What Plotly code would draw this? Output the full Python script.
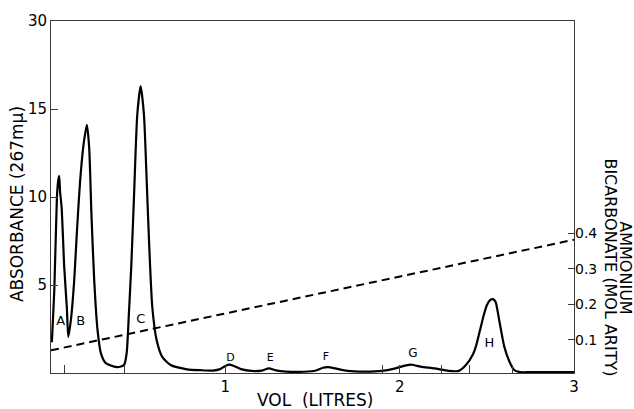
import plotly.graph_objects as go

# Elution profile (absorbance at 267 mμ)
vol = [0.005, 0.019, 0.034, 0.041, 0.047, 0.052, 0.061, 0.076, 0.091, 0.099,
       0.114, 0.133, 0.149, 0.167, 0.187, 0.206, 0.219, 0.232, 0.248, 0.267,
       0.286, 0.314, 0.381, 0.419, 0.434, 0.447, 0.461, 0.476, 0.495, 0.514,
       0.533, 0.549, 0.564, 0.581, 0.606, 0.638, 0.686, 0.78, 0.857, 0.93,
       0.97, 1.0, 1.02, 1.05, 1.09, 1.15, 1.21, 1.25, 1.29, 1.35, 1.45,
       1.52, 1.56, 1.59, 1.63, 1.7, 1.8, 1.9, 1.97, 2.03, 2.07, 2.12,
       2.2, 2.28, 2.34, 2.38, 2.42, 2.44, 2.46, 2.48, 2.50, 2.52, 2.535,
       2.55, 2.571, 2.6, 2.63, 2.657, 2.69, 2.75, 2.85, 2.95, 3.0]
absorb = [1.75, 4.7, 10.0, 10.9, 11.2, 10.3, 9.4, 6.0, 3.7, 2.05,
          3.0, 5.25, 8.1, 10.9, 13.0, 14.1, 12.8, 9.0, 5.25, 2.43,
          1.13, 0.56, 0.33, 0.45, 1.13, 3.4, 6.2, 10.0, 14.7, 16.3,
          14.7, 10.9, 7.1, 3.75, 1.86, 0.92, 0.45, 0.21, 0.16, 0.14,
          0.22, 0.4, 0.48, 0.4, 0.22, 0.12, 0.14, 0.26, 0.15, 0.08, 0.07,
          0.14, 0.3, 0.33, 0.26, 0.12, 0.08, 0.12, 0.25, 0.42, 0.47, 0.36,
          0.26, 0.12, 0.12, 0.45, 1.05, 1.6, 2.4, 3.2, 3.85, 4.15, 4.2,
          4.05, 3.0, 1.5, 0.64, 0.17, 0.05, 0.05, 0.05, 0.05, 0.05]

# Ammonium bicarbonate gradient (molarity)
grad_vol = [0.0, 3.0]
grad_mol = [0.07, 0.382]

# Peak labels
peak_names = ["A", "B", "C", "D", "E", "F", "G", "H"]
peak_x = [0.056, 0.171, 0.515, 1.03, 1.257, 1.577, 2.076, 2.514]
peak_y = [2.94, 2.94, 3.05, 0.83, 0.83, 0.92, 1.07, 1.68]
peak_size = [13, 13, 13, 11, 11, 11, 12, 13]

# Axis ticks
x_ticks = [1, 2, 3]
x_ticktext = ["1", "2", "3"]
x_marks = [0.08, 0.42, 1.9, 2.24, 2.4, 2.65]
y_ticks = [5, 10, 15, 20]
y_ticktext = ["5", "10", "15", "30"]
y2_ticks = [0.1, 0.2, 0.3, 0.4]
y2_ticktext = ["0.1", "0.2", "0.3", "0.4"]

FONT = "DejaVu Sans"
AX = "#3a3a3a"

fig = go.Figure()
fig.add_trace(go.Scatter(x=vol, y=absorb, mode="lines",
                         line=dict(color="black", width=2.2, shape="spline", smoothing=0.6),
                         showlegend=False, hoverinfo="skip"))
fig.add_trace(go.Scatter(x=grad_vol, y=grad_mol, mode="lines", yaxis="y2",
                         line=dict(color="black", width=2, dash="8px,5px"),
                         showlegend=False, hoverinfo="skip"))
fig.add_trace(go.Scatter(x=peak_x, y=peak_y, mode="text", text=peak_names,
                         textfont=dict(family=FONT, size=peak_size, color="black"),
                         showlegend=False, hoverinfo="skip"))

fig.update_layout(
    width=634, height=409,
    margin=dict(l=51, r=60, t=19, b=36),
    paper_bgcolor="white", plot_bgcolor="white",
    font=dict(family=FONT, color="black"),
    xaxis=dict(range=[0, 3], showgrid=False, zeroline=False,
               showline=True, linecolor=AX, linewidth=1, mirror=True,
               tickmode="array", tickvals=x_ticks, ticktext=x_ticktext,
               ticks="inside", ticklen=8, tickcolor=AX, tickwidth=1,
               tickfont=dict(size=15),
               minor=dict(tickmode="array", tickvals=x_marks, ticks="inside",
                          ticklen=8, tickcolor=AX, tickwidth=1, showgrid=False)),
    yaxis=dict(range=[0, 20], showgrid=False, zeroline=False,
               showline=True, linecolor=AX, linewidth=1, mirror=True,
               tickmode="array", tickvals=y_ticks, ticktext=y_ticktext,
               ticks="inside", ticklen=7, tickcolor=AX, tickwidth=1,
               tickfont=dict(size=15)),
    yaxis2=dict(range=[0.006, 0.999], overlaying="y", side="right",
                showgrid=False, zeroline=False, showline=False,
                tickmode="array", tickvals=y2_ticks, ticktext=y2_ticktext,
                ticks="inside", ticklen=6, tickcolor=AX, tickwidth=1,
                tickfont=dict(size=14)),
)

fig.add_annotation(text="VOL  (LITRES)", showarrow=False,
                   xref="paper", yref="paper", x=0.505, y=-0.076,
                   xanchor="center", yanchor="middle", font=dict(size=17))
fig.add_annotation(text="ABSORBANCE (267mμ)", textangle=-90, showarrow=False,
                   xref="paper", yref="paper", x=-0.065, y=0.48,
                   xanchor="center", yanchor="middle", font=dict(size=17))
fig.add_annotation(text="AMMONIUM", textangle=90, showarrow=False,
                   xref="paper", yref="paper", x=1.0996, y=0.30,
                   xanchor="center", yanchor="middle", font=dict(size=16))
fig.add_annotation(text="BICARBONATE (MOL ARITY)", textangle=90, showarrow=False,
                   xref="paper", yref="paper", x=1.0707, y=0.30,
                   xanchor="center", yanchor="middle", font=dict(size=16))

fig.write_html("out.html")
